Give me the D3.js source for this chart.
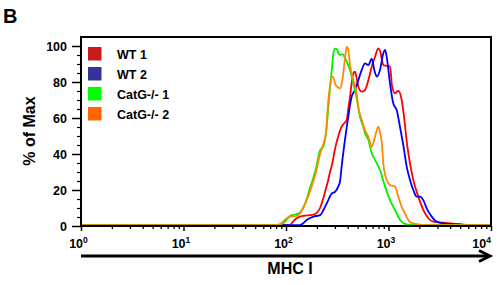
<!DOCTYPE html>
<html><head><meta charset="utf-8">
<script src="https://cdn.jsdelivr.net/npm/d3@7"></script>
<style>
body{margin:0;background:#fff}
svg{display:block}
text{font-family:"Liberation Sans",Arial,Helvetica,sans-serif;font-weight:bold;fill:#000}
</style>
</head><body>
<svg id="c" width="500" height="285"></svg>
<script>
// ---- data (MHC I intensity, % of Max) ----
const seriesNames = ["WT 1", "WT 2", "CatG-/- 1", "CatG-/- 2"];
const xTickValues = [1, 10, 100, 1000, 10000];
const xTickExponents = ["0", "1", "2", "3", "4"];
const yTickValues = [0, 20, 40, 60, 80, 100];

const wt1 = [[1,0.5],[109,0.6],[117,2.4],[125,4],[137,5.2],[157,5.8],[171,6],[196,7],[215,10],[230,15],[246,21],[257,25],[269,30],[281,34],[301,43],[324,50],[349,55.2],[376,57.5],[391,58.9],[405,65],[421,71.8],[454,84.8],[471,85.7],[489,82],[508,77.4],[548,74.6],[590,75.5],[636,81],[686,88.5],[739,94],[795,98.7],[826,97.5],[858,93],[890,89.4],[960,89],[1035,88.5],[1082,78],[1157,73.7],[1202,74.6],[1247,75],[1345,70],[1394,64],[1449,56],[1505,47],[1621,34.8],[1746,25.6],[1954,16.3],[2185,9],[2445,4.3],[2737,2.4],[3428,1.8],[4288,1.3],[5335,0.8],[7810,0.5],[10000,0.5]];

const wt2 = [[1,0.5],[137,0.5],[147,1.5],[159,3.3],[185,5.2],[215,6],[230,8.5],[250,12.6],[279,18],[301,19],[324,22],[337,25],[349,33],[376,47.8],[405,60.7],[437,71.8],[471,75.5],[508,81],[548,86.7],[590,90.4],[636,89.4],[686,93],[727,86.7],[767,83],[826,86.7],[890,96],[925,97.8],[960,94],[1035,79],[1114,68],[1202,64.4],[1295,55],[1394,45],[1505,33],[1621,25.6],[1746,20],[1884,16.3],[2029,16.3],[2185,14.4],[2358,9.8],[2641,5.2],[2953,2.4],[3428,1.5],[4288,1],[6237,0.5],[10000,0.5]];

const catg1 = [[1,0.5],[69.8,0.5],[87.4,0.8],[97.8,2.5],[109,5.5],[125,6.5],[137,7.5],[147,10],[157,14],[171,21],[183,26],[196,32],[215,42],[230,44],[246,52],[257,64],[269,77],[281,88],[290,96],[301,98.5],[315,98],[324,96],[337,95],[352,95.5],[362,95],[391,91.3],[421,86.7],[454,79],[489,71],[527,60.7],[568,55],[590,51.5],[636,47.8],[686,40.4],[739,36.7],[826,31],[925,22],[1035,14.4],[1157,8.9],[1295,3.5],[1449,1.2],[1621,0.6],[10000,0.5]];

const catg2 = [[1,0.5],[78.1,0.5],[87.4,1],[97.8,3.5],[109,5.2],[125,5.5],[137,7],[147,10],[157,13.5],[171,19],[183,24],[196,30],[215,40],[230,45],[246,52],[257,68],[269,78],[281,83],[290,82.6],[301,79],[315,77.4],[337,76.5],[352,80],[362,84.8],[376,93],[391,99.6],[405,97.8],[421,89.4],[454,81],[489,73.7],[508,66],[527,62],[548,58.9],[590,53.3],[636,49.6],[686,44],[739,49.6],[795,55.2],[826,52],[858,47],[890,34.8],[960,25.6],[1035,22.8],[1157,21.9],[1247,16.3],[1345,10.7],[1449,7],[1621,2],[2029,0.8],[2541,0.5],[10000,0.5]];

const seriesData = [wt1, wt2, catg1, catg2];
const lineColors = ["#ff0000", "#0000ff", "#00ee00", "#ff8a00"];
const legendColors = ["#cc1a1a", "#333399", "#00ff00", "#ff6600"];

// ---- layout ----
const L = 81, R = 491, T = 37, B = 226;
const svg = d3.select("#c");
const x = d3.scaleLog().domain([1, 10000]).range([L, R]);
const y = d3.scaleLinear().domain([0, 105]).range([B, T]);

// panel letter
svg.append("text").attr("x", 3).attr("y", 23).attr("font-size", 20).text("B");

// clip
svg.append("clipPath").attr("id", "clip").append("rect")
  .attr("x", L).attr("y", T).attr("width", R - L).attr("height", B - T);

// curves
const line = d3.line().x(d => x(d[0])).y(d => y(d[1])).curve(d3.curveMonotoneX);
const g = svg.append("g").attr("clip-path", "url(#clip)");
seriesData.forEach((s, i) => {
  g.append("path").attr("d", line(s)).attr("fill", "none")
    .attr("stroke", lineColors[i]).attr("stroke-width", 1.8)
    .attr("stroke-linejoin", "round");
});

// frame
svg.append("rect").attr("x", L).attr("y", T).attr("width", R - L).attr("height", B - T)
  .attr("fill", "none").attr("stroke", "#000").attr("stroke-width", 2);

// y axis major
const yAx = svg.append("g").attr("transform", `translate(${L},0)`)
  .call(d3.axisLeft(y).tickValues(yTickValues).tickSize(9).tickPadding(5));
yAx.select(".domain").remove();
yAx.selectAll("line").attr("stroke-width", 1.5);
yAx.selectAll("text").attr("font-size", 12.5).attr("font-family", null).attr("font-weight", "bold");
// y minor
const yMinor = d3.range(0, 105, 5).filter(v => v % 20 !== 0);
const yAxm = svg.append("g").attr("transform", `translate(${L},0)`)
  .call(d3.axisLeft(y).tickValues(yMinor).tickSize(4).tickFormat(""));
yAxm.select(".domain").remove();
yAxm.selectAll("line").attr("stroke-width", 1.2);

// x axis major
const xAx = svg.append("g").attr("transform", `translate(0,${B})`)
  .call(d3.axisBottom(x).tickValues(xTickValues).tickSize(5).tickFormat(""));
xAx.select(".domain").remove();
xAx.selectAll("line").attr("stroke-width", 1.5);
// x minor
const xMinor = [];
[1, 10, 100, 1000].forEach(d => { for (let k = 2; k <= 9; k++) xMinor.push(d * k); });
const xAxm = svg.append("g").attr("transform", `translate(0,${B})`)
  .call(d3.axisBottom(x).tickValues(xMinor).tickSize(3).tickFormat(""));
xAxm.select(".domain").remove();
xAxm.selectAll("line").attr("stroke-width", 1.3);

// x tick labels with superscripts
xTickValues.forEach((v, i) => {
  const last = i === xTickValues.length - 1;
  const t = svg.append("text").attr("y", 248).attr("font-size", 12.5)
    .attr("x", last ? x(v) : x(v) - 2.5)
    .attr("text-anchor", last ? "end" : "middle");
  t.append("tspan").text("10");
  t.append("tspan").attr("dy", -5).attr("font-size", 8.5).text(xTickExponents[i]);
});

// arrow under x axis
const ay = 256;
svg.append("line").attr("x1", L).attr("x2", R - 2).attr("y1", ay).attr("y2", ay)
  .attr("stroke", "#000").attr("stroke-width", 3);
svg.append("path").attr("d", `M${R - 12},${ay - 5.5}L${R - 1},${ay}L${R - 12},${ay + 5.5}`)
  .attr("fill", "none").attr("stroke", "#000").attr("stroke-width", 3)
  .attr("stroke-linejoin", "miter");

// axis titles
svg.append("text").attr("x", 290).attr("y", 274).attr("text-anchor", "middle")
  .attr("font-size", 16).text("MHC I");
svg.append("text").attr("transform", "translate(35,131) rotate(-90)")
  .attr("text-anchor", "middle").attr("font-size", 16).text("% of Max");

// legend
const lg = svg.append("g");
seriesNames.forEach((n, i) => {
  const yy = 47 + i * 20;
  lg.append("rect").attr("x", 88).attr("y", yy).attr("width", 13.5).attr("height", 13.5)
    .attr("fill", legendColors[i]);
  lg.append("text").attr("x", 117).attr("y", yy + 12).attr("font-size", 12.5).text(n);
});
</script>
</body></html>
